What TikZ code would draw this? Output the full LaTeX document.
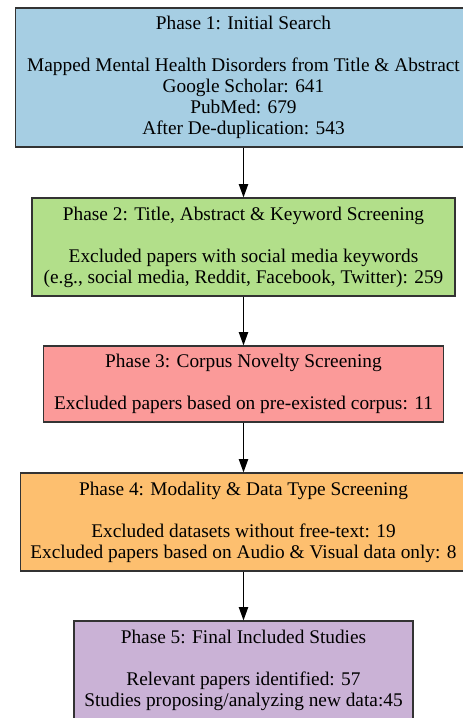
\documentclass[tikz,border=0pt]{standalone}
\usepackage{fontspec}
\setmainfont{Liberation Serif}
\usetikzlibrary{arrows.meta}
\definecolor{phaseblue}{HTML}{A6CEE3}
\definecolor{phasegreen}{HTML}{B2DF8A}
\definecolor{phasered}{HTML}{FB9A99}
\definecolor{phaseorange}{HTML}{FDBF6F}
\definecolor{phasepurple}{HTML}{CAB2D6}
\begin{document}
\begin{tikzpicture}[x=0.75pt, y=-0.75pt,
  phasebox/.style={rectangle, draw=black!80, line width=0.9pt, inner sep=0pt, align=center,
    font=\fontsize{14.5}{15.7}\selectfont},
  flow/.style={-{Triangle[length=10pt, width=7pt]}, line width=0.9pt}]
\useasboundingbox (0,0) rectangle (462,718);
\node[phasebox, fill=phaseblue, minimum width=342pt, minimum height=104.25pt] (ph1) at (243.5,77.5)
  {Phase 1: Initial Search\\[15.7pt]Mapped Mental Health Disorders from Title \& Abstract\\Google Scholar: 641\\PubMed: 679\\After De-duplication: 543};
\node[phasebox, fill=phasegreen, minimum width=317.25pt, minimum height=73.5pt] (ph2) at (243.5,247)
  {Phase 2: Title, Abstract \& Keyword Screening\\[15.7pt]Excluded papers with social media keywords\\(e.g., social media, Reddit, Facebook, Twitter): 259};
\node[phasebox, fill=phasered, minimum width=300pt, minimum height=57pt] (ph3) at (243.5,384)
  {Phase 3: Corpus Novelty Screening\\[15.7pt]Excluded papers based on pre-existed corpus: 11};
\node[phasebox, fill=phaseorange, minimum width=334.5pt, minimum height=73.5pt] (ph4) at (243.5,522)
  {Phase 4: Modality \& Data Type Screening\\[15.7pt]Excluded datasets without free-text: 19\\Excluded papers based on Audio \& Visual data only: 8};
\node[phasebox, fill=phasepurple, minimum width=254.25pt, minimum height=73.5pt] (ph5) at (243.5,670)
  {Phase 5: Final Included Studies\\[15.7pt]Relevant papers identified: 57\\Studies proposing/analyzing new data:45};
\draw[flow](ph1.south) -- (ph2.north);
\draw[flow](ph2.south) -- (ph3.north);
\draw[flow](ph3.south) -- (ph4.north);
\draw[flow](ph4.south) -- (ph5.north);
\end{tikzpicture}
\end{document}
